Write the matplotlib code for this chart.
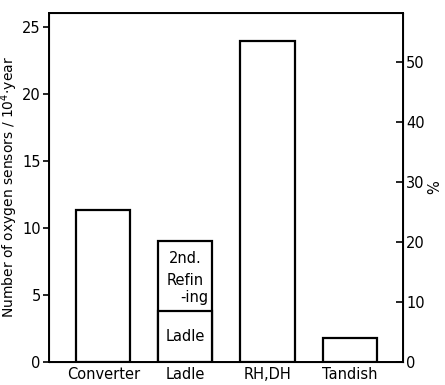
import numpy as np
import matplotlib.pyplot as plt

# data
categories = ['Converter', 'Ladle', 'RH,DH', 'Tandish']
sensors = [11.3, 9.0, 23.9, 1.8]          # number of sensors / 10^4 year
ladle_part = 3.8                          # lower "Ladle" share of the Ladle bar

plt.rcParams['font.family'] = 'DejaVu Sans'
plt.rcParams['font.size'] = 10.5

fig = plt.figure(figsize=(4.45, 3.85), dpi=100)
ax = fig.add_axes([0.110, 0.060, 0.796, 0.906])

x = np.arange(len(categories))
ax.bar(x, sensors, width=0.66, facecolor='white', edgecolor='black', linewidth=1.6)
# division inside the ladle bar
ax.bar(x[1], ladle_part, width=0.66, facecolor='white', edgecolor='black', linewidth=1.6)

ax.text(x[1], 7.7, '2nd.', ha='center', va='center')
ax.text(x[1], 6.1, 'Refin', ha='center', va='center')
ax.text(x[1] + 0.28, 4.8, '-ing', ha='right', va='center')
ax.text(x[1], 1.9, 'Ladle', ha='center', va='center')

ax.set_xlim(-0.66, 3.65)
ax.set_ylim(0, 26)
ax.set_xticks(x)
ax.set_xticklabels(categories)
ax.tick_params(axis='x', length=0, pad=4)
ax.set_yticks([0, 5, 10, 15, 20, 25])
ax.tick_params(axis='y', direction='out', length=4, width=1.2, pad=2)
ax.set_ylabel('Number of oxygen sensors / 10$^4$·year', fontsize=10, labelpad=1)
for s in ax.spines.values():
    s.set_linewidth(1.4)

# right axis in percent
ax2 = ax.twinx()
ax2.set_ylim(0, 58.2)
ax2.set_yticks([0, 10, 20, 30, 40, 50])
ax2.tick_params(axis='y', direction='in', length=5, width=1.2, pad=2)
ax2.set_ylabel('%', labelpad=2)

fig.savefig('out.png', dpi=100)
